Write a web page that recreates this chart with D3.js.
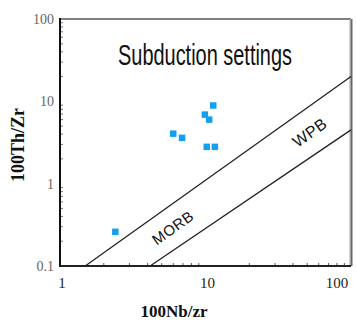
<!DOCTYPE html>
<html>
<head>
<meta charset="utf-8">
<script src="https://cdn.jsdelivr.net/npm/d3@7"></script>
<style>
  body { margin: 0; background: #fff; }
</style>
</head>
<body>
<div id="chart"></div>
<script>
//***************** data *******************/
var nbzr = [11.3, 9.9, 10.6, 6.0, 6.9, 10.2, 11.6, 2.4];
var thzr = [8.9, 6.9, 6.0, 4.05, 3.6, 2.8, 2.8, 0.26];
var xTicks = [1, 10, 100];
var yTicks = [0.1, 1, 10, 100];
// boundary lines (start / end points)
var morbLine = [[1.49, 0.1], [100, 20]];
var wpbLine = [[4.16, 0.1], [100, 4.5]];

//************* set dimensions ***************/
var W = 357, H = 320;
var margin = {left: 60, right: 6, top: 19, bottom: 54};
var width = W - margin.left - margin.right,
    height = H - margin.top - margin.bottom;

var svg = d3.select("#chart")
  .append("svg")
    .attr("width", W)
    .attr("height", H)
  .append("g")
    .attr("transform", "translate(" + margin.left + "," + margin.top + ")");

//***************** scales *******************/
var x = d3.scaleLog().domain([1, 100]).range([0, width]);
var y = d3.scaleLog().domain([0.1, 100]).range([height, 0]);

// frame: top and right in grey, left and bottom black
svg.append("line").attr("x1", 0).attr("x2", width).attr("y1", 0).attr("y2", 0)
  .attr("stroke", "#555").attr("stroke-width", 1.5);
svg.append("line").attr("x1", width).attr("x2", width).attr("y1", 0).attr("y2", height)
  .attr("stroke", "#666").attr("stroke-width", 3);
svg.append("line").attr("x1", width - 1).attr("x2", width - 1).attr("y1", 0).attr("y2", height)
  .attr("stroke", "#fff").attr("stroke-width", 0.8);

// minor ticks
var minors = [];
[1, 10].forEach(function(d) { for (var k = 2; k < 10; k++) minors.push(d * k); });
svg.selectAll(".xminor").data(minors).enter().append("line")
  .attr("x1", function(d) { return x(d); }).attr("x2", function(d) { return x(d); })
  .attr("y1", height).attr("y2", height - 3)
  .attr("stroke", "#555").attr("stroke-width", 1);
var yminors = [];
[0.1, 1, 10].forEach(function(d) { for (var k = 2; k < 10; k++) yminors.push(d * k); });
svg.selectAll(".yminor").data(yminors).enter().append("line")
  .attr("x1", 0).attr("x2", 3)
  .attr("y1", function(d) { return y(d); }).attr("y2", function(d) { return y(d); })
  .attr("stroke", "#777").attr("stroke-width", 1);

// axes
svg.append("line").attr("x1", 0).attr("x2", 0).attr("y1", -1).attr("y2", height + 1)
  .attr("stroke", "#111").attr("stroke-width", 2);
svg.append("line").attr("x1", 0).attr("x2", width).attr("y1", height).attr("y2", height)
  .attr("stroke", "#222").attr("stroke-width", 2.2);

// tick labels
svg.selectAll(".ylab").data(yTicks).enter().append("text")
  .attr("x", -6)
  .attr("y", function(d) { return y(d); })
  .attr("dy", "0.35em")
  .attr("text-anchor", "end")
  .attr("font-family", "Liberation Serif, serif")
  .attr("font-size", "14px")
  .attr("fill", "#666")
  .text(function(d) { return d; });

svg.selectAll(".xlab").data(xTicks).enter().append("text")
  .attr("x", function(d) { return d === 100 ? x(d) - 14 : x(d) + 2; })
  .attr("y", height + 22)
  .attr("text-anchor", "middle")
  .attr("font-family", "Liberation Serif, serif")
  .attr("font-size", "15px")
  .attr("fill", "#222")
  .text(function(d) { return d; });

// axis titles
svg.append("text")
  .attr("x", 174 - margin.left)
  .attr("y", 317 - margin.top)
  .attr("text-anchor", "middle")
  .attr("font-family", "Liberation Serif, serif")
  .attr("font-weight", "bold")
  .attr("font-size", "17px")
  .attr("fill", "#111")
  .text("100Nb/zr");

svg.append("text")
  .attr("transform", "translate(" + (24 - margin.left) + "," + (145 - margin.top) + ") rotate(-90)")
  .attr("text-anchor", "middle")
  .attr("font-family", "Liberation Serif, serif")
  .attr("font-weight", "bold")
  .attr("font-size", "18px")
  .attr("fill", "#111")
  .text("100Th/Zr");

// title inside plot (condensed look: stretched vertically)
svg.append("text")
  .attr("transform", "translate(" + (118 - margin.left) + "," + (65 - margin.top) + ") scale(1,1.43)")
  .attr("font-family", "Liberation Sans Narrow, Liberation Sans, sans-serif")
  .attr("font-size", "20px")
  .attr("fill", "#111")
  .attr("textLength", 174)
  .attr("lengthAdjust", "spacingAndGlyphs")
  .text("Subduction settings");

// boundary lines
var line = d3.line()
  .x(function(d) { return x(d[0]); })
  .y(function(d) { return y(d[1]); });
[morbLine, wpbLine].forEach(function(l) {
  svg.append("path").attr("d", line(l))
    .attr("fill", "none").attr("stroke", "#222").attr("stroke-width", 1.3);
});

// field labels
var ang = Math.atan2(y(morbLine[1][1]) - y(morbLine[0][1]), x(morbLine[1][0]) - x(morbLine[0][0])) * 180 / Math.PI;
svg.append("text")
  .attr("transform", "translate(" + (176 - margin.left) + "," + (232 - margin.top) + ") rotate(" + ang + ")")
  .attr("text-anchor", "middle")
  .attr("font-family", "Liberation Sans, sans-serif")
  .attr("font-size", "15px")
  .attr("letter-spacing", "0.5px")
  .attr("fill", "#111")
  .text("MORB");
svg.append("text")
  .attr("transform", "translate(" + (313 - margin.left) + "," + (137 - margin.top) + ") rotate(" + ang + ")")
  .attr("text-anchor", "middle")
  .attr("font-family", "Liberation Sans, sans-serif")
  .attr("font-size", "16px")
  .attr("letter-spacing", "0.5px")
  .attr("fill", "#111")
  .text("WPB");

// samples
var s = 6.5;
svg.selectAll(".pt").data(nbzr).enter().append("rect")
  .attr("x", function(d) { return x(d) - s / 2; })
  .attr("y", function(d, i) { return y(thzr[i]) - s / 2; })
  .attr("width", s).attr("height", s)
  .attr("fill", "#14a0ee");
</script>
</body>
</html>
